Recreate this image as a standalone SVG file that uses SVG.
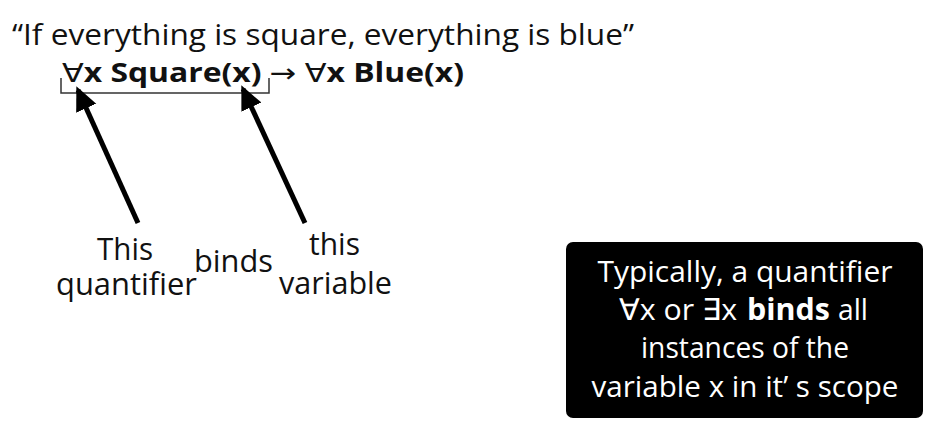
<svg xmlns="http://www.w3.org/2000/svg" width="941" height="435" viewBox="0 0 941 435">
<defs>
<style>
.t{font-family:"Open Sans","Noto Sans","DejaVu Sans",sans-serif;fill:#111;}
.b{font-weight:bold;}
.n{font-weight:normal;}
.w{fill:#fff;font-family:"Open Sans","Noto Sans","DejaVu Sans",sans-serif;font-size:30px;}
.arrow{stroke:#000;stroke-width:5;fill:none;marker-end:url(#ah);}
.br{stroke:#333;stroke-width:1.5;fill:none;}
</style>
<marker id="ah" markerUnits="userSpaceOnUse" markerWidth="24" markerHeight="24" refX="20" refY="11" orient="auto" viewBox="0 0 24 22">
<path d="M0,0 L24,11 L0,22 z" fill="#000"/>
</marker>
</defs>
<rect width="941" height="435" fill="#fff"/>
<g id="title">
<text class="t" x="12" y="45" font-size="30" textLength="622" lengthAdjust="spacingAndGlyphs">“If everything is square, everything is blue”</text>
</g>
<g id="formula">
<text class="t b" x="62" y="82" font-size="26" textLength="402" lengthAdjust="spacingAndGlyphs"><tspan class="n">∀</tspan>x Square(x) <tspan class="n">→</tspan> <tspan class="n">∀</tspan>x Blue(x)</text>
</g>
<g id="bracket">
<path class="br" d="M61,78 V93 H269 V78"/>
</g>
<g id="label-this-quantifier">
<text class="t" x="97" y="260" font-size="31" textLength="56" lengthAdjust="spacingAndGlyphs">This</text>
<text class="t" x="56" y="295" font-size="31" textLength="141" lengthAdjust="spacingAndGlyphs">quantifier</text>
</g>
<g id="label-binds">
<text class="t" x="194" y="272" font-size="31" textLength="79" lengthAdjust="spacingAndGlyphs">binds</text>
</g>
<g id="label-this-variable">
<text class="t" x="309" y="255" font-size="31" textLength="51" lengthAdjust="spacingAndGlyphs">this</text>
<text class="t" x="279" y="294" font-size="31" textLength="113" lengthAdjust="spacingAndGlyphs">variable</text>
</g>
<g id="connectors">
<line class="arrow" x1="138" y1="223" x2="78" y2="90"/>
<line class="arrow" x1="305" y1="223" x2="243" y2="89"/>
</g>
<g id="note">
<rect x="566" y="242" width="357" height="176" rx="7" fill="#000"/>
<text class="w" x="745" y="282" text-anchor="middle" textLength="295" lengthAdjust="spacingAndGlyphs">Typically, a quantifier</text>
<text class="w" x="619" y="320" textLength="118" lengthAdjust="spacingAndGlyphs">∀x or ∃x</text>
<text class="w" x="747" y="320" font-weight="bold" textLength="83" lengthAdjust="spacingAndGlyphs">binds</text>
<text class="w" x="838" y="320" textLength="30" lengthAdjust="spacingAndGlyphs">all</text>
<text class="w" x="745" y="358" text-anchor="middle" textLength="208" lengthAdjust="spacingAndGlyphs">instances of the</text>
<text class="w" x="745" y="397" text-anchor="middle" textLength="307" lengthAdjust="spacingAndGlyphs">variable x in it’ s scope</text>
</g>
</svg>
